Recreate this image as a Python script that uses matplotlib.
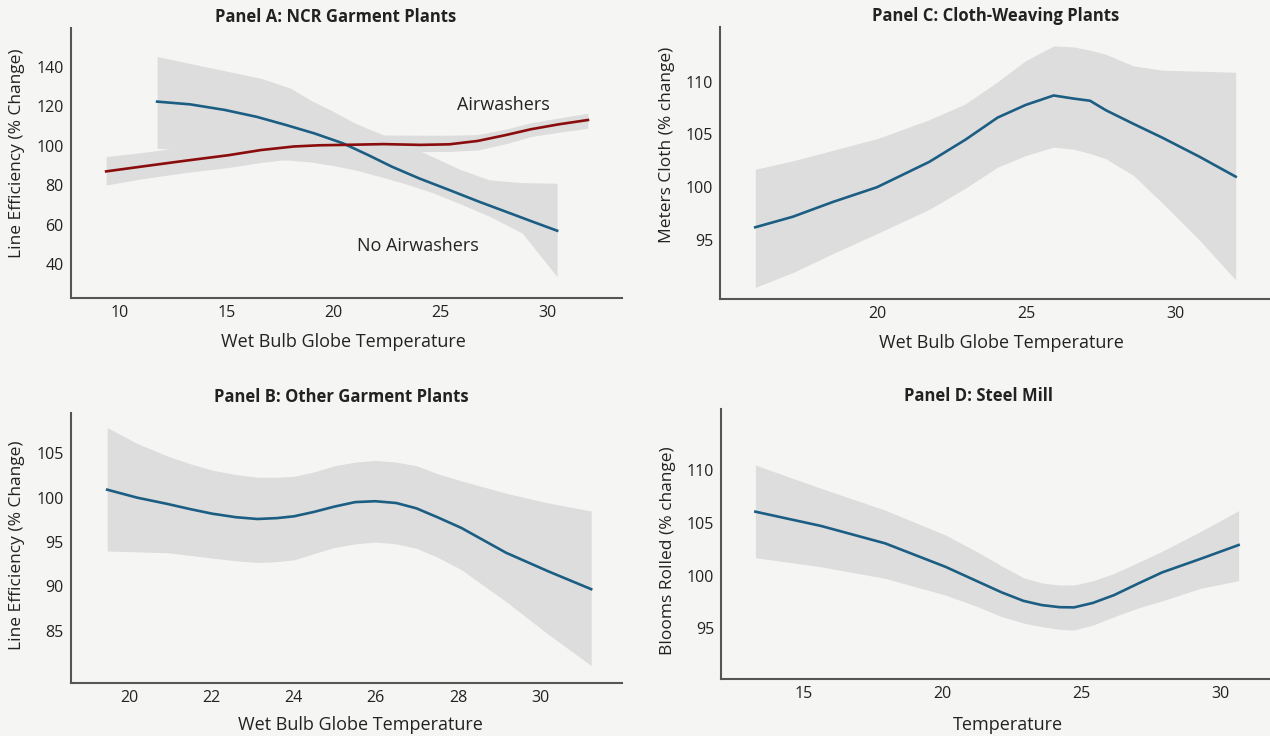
import numpy as np
import matplotlib.pyplot as plt

plt.rcParams['font.family'] = ['Open Sans', 'DejaVu Sans']

# Panel A: NCR garment plants
a_x_noair = [11.75, 13.3, 14.9, 16.4, 17.76, 19.1, 20.43, 21.6, 22.71, 24.0, 25.39, 26.8, 28.24, 29.3, 30.43]
a_y_noair = [122.3, 120.9, 118.1, 114.6, 110.5, 106.2, 101.2, 95.3, 89.4, 83.4, 77.6, 71.6, 65.8, 61.5, 57.0]
a_x_noair_hi = [11.75, 14.2, 16.6, 18.0, 18.9, 20.0, 21.0, 22.33, 23.5, 24.6, 25.9, 27.27, 28.8, 30.43]
a_hi_noair = [145.1, 139.5, 134.1, 129.0, 123.1, 117.2, 111.3, 105.4, 100.0, 94.5, 88.0, 82.7, 81.3, 81.0]
a_lo_noair = [98.7, 96.7, 93.8, 92.6, 91.8, 89.9, 87.7, 83.9, 80.2, 76.3, 70.6, 64.3, 55.8, 33.7]

a_x_air = [9.37, 11.0, 13.0, 15.09, 16.6, 18.14, 19.3, 20.43, 22.33, 24.05, 25.4, 26.72, 28.0, 29.2, 30.5, 31.87]
a_y_air = [87.0, 89.4, 92.3, 95.2, 97.8, 99.6, 100.2, 100.4, 100.8, 100.4, 100.7, 102.4, 105.3, 108.3, 110.8, 113.0]
a_hi_air = [94.5, 96.5, 99.2, 101.6, 103.6, 105.0, 105.3, 105.3, 105.4, 105.3, 105.3, 105.6, 108.3, 111.6, 114.0, 116.4]
a_lo_air = [80.1, 83.2, 86.3, 89.0, 91.5, 93.5, 94.8, 95.6, 96.6, 97.0, 97.1, 97.8, 100.9, 104.6, 106.8, 108.8]

# Panel B: other garment plants
b_x = [19.47, 20.2, 20.93, 21.5, 22.02, 22.6, 23.12, 23.6, 24.01, 24.5, 25.0, 25.5, 25.99, 26.5, 26.99, 27.5, 28.08, 29.17, 30.2, 31.24]
b_y = [100.9, 100.0, 99.3, 98.7, 98.2, 97.8, 97.6, 97.7, 97.9, 98.4, 99.0, 99.5, 99.6, 99.4, 98.8, 97.8, 96.6, 93.8, 91.7, 89.7]
b_hi = [107.9, 106.1, 104.7, 103.8, 103.1, 102.6, 102.3, 102.3, 102.4, 102.9, 103.6, 104.0, 104.2, 104.0, 103.6, 102.7, 101.9, 100.5, 99.4, 98.5]
b_lo = [94.0, 93.9, 93.8, 93.5, 93.2, 92.9, 92.7, 92.8, 93.0, 93.7, 94.4, 94.8, 95.0, 94.8, 94.3, 93.3, 91.9, 88.3, 84.6, 81.1]

# Panel C: cloth-weaving plants
c_x = [15.92, 17.18, 18.52, 20.0, 21.75, 22.96, 24.04, 24.98, 25.92, 26.6, 27.14, 27.67, 28.6, 29.56, 30.8, 32.02]
c_y = [96.2, 97.2, 98.6, 100.0, 102.4, 104.5, 106.6, 107.8, 108.7, 108.4, 108.2, 107.3, 106.0, 104.7, 102.9, 101.0]
c_hi = [101.7, 102.5, 103.5, 104.6, 106.4, 107.9, 110.0, 112.0, 113.4, 113.3, 113.0, 112.6, 111.5, 111.1, 111.0, 110.9]
c_lo = [90.5, 91.9, 93.7, 95.6, 97.9, 99.9, 101.9, 103.0, 103.8, 103.6, 103.2, 102.7, 101.1, 98.5, 95.0, 91.2]

# Panel D: steel mill
d_x = [13.25, 15.61, 17.92, 20.09, 21.2, 22.12, 22.9, 23.56, 24.2, 24.72, 25.4, 26.17, 27.0, 27.9, 29.3, 30.65]
d_y = [106.05, 104.7, 103.05, 100.83, 99.5, 98.4, 97.6, 97.2, 97.0, 96.98, 97.4, 98.15, 99.2, 100.3, 101.6, 102.89]
d_hi = [110.47, 108.26, 106.2, 103.84, 102.3, 100.9, 99.8, 99.3, 99.1, 99.1, 99.5, 100.2, 101.2, 102.3, 104.2, 106.14]
d_lo = [101.69, 100.83, 99.73, 98.15, 97.1, 96.1, 95.5, 95.15, 94.9, 94.83, 95.3, 96.1, 96.9, 97.6, 98.8, 99.51]

BG = '#f5f5f3'
BAND = '#dddddd'
BLUE = '#1c5e83'
RED = '#8a0c0c'
SPINE = '#555555'
TXT = '#222222'

fig = plt.figure(figsize=(12.7, 7.36), dpi=100, facecolor=BG)


def setup(ax, xlim, ylim, xticks, yticks, xlabel, ylabel, title, title_x, title_pad, xl_x, xl_y, yl_y):
    ax.set_facecolor(BG)
    ax.set_xlim(*xlim)
    ax.set_ylim(*ylim)
    ax.set_xticks(xticks)
    ax.set_yticks(yticks)
    for s in ['top', 'right']:
        ax.spines[s].set_visible(False)
    for s in ['left', 'bottom']:
        ax.spines[s].set_color(SPINE)
        ax.spines[s].set_linewidth(1.5)
    ax.tick_params(length=0, pad=5, labelsize=11.5, colors=TXT)
    ax.set_xlabel(xlabel, fontsize=13, color=TXT)
    ax.xaxis.set_label_coords(xl_x, xl_y)
    ax.set_ylabel(ylabel, fontsize=12.5, color=TXT)
    ax.yaxis.set_label_coords(-0.083, yl_y)
    ax.set_title(title, fontsize=12, fontweight='bold', color=TXT, x=title_x, pad=title_pad)


ax_a = fig.add_axes([0.0556, 0.5947, 0.4345, 0.3677])
ax_a.fill_between(a_x_air, a_lo_air, a_hi_air, color=BAND, lw=0)
ax_a.fill_between(a_x_noair_hi, a_lo_noair, a_hi_noair, color=BAND, lw=0)
ax_a.plot(a_x_noair, a_y_noair, color=BLUE, lw=1.9)
ax_a.plot(a_x_air, a_y_air, color=RED, lw=1.9)
ax_a.text(25.76, 120.4, 'Airwashers', fontsize=13, color=TXT, va='center')
ax_a.text(21.09, 49.4, 'No Airwashers', fontsize=13, color=TXT, va='center')
setup(ax_a, (7.71, 33.48), (22.8, 159.7), [10, 15, 20, 25, 30], [40, 60, 80, 100, 120, 140],
      'Wet Bulb Globe Temperature', 'Line Efficiency (% Change)',
      'Panel A: NCR Garment Plants', 0.48, 4, 0.494, -0.127, 0.537)

ax_c = fig.add_axes([0.5672, 0.5938, 0.4328, 0.3696])
ax_c.fill_between(c_x, c_lo, c_hi, color=BAND, lw=0)
ax_c.plot(c_x, c_y, color=BLUE, lw=1.9)
setup(ax_c, (14.75, 33.17), (89.4, 115.2), [20, 25, 30], [95, 100, 105, 110],
      'Wet Bulb Globe Temperature', 'Meters Cloth (% change)',
      'Panel C: Cloth-Weaving Plants', 0.5, 4, 0.512, -0.127, 0.567)

ax_b = fig.add_axes([0.0556, 0.0716, 0.4345, 0.3677])
ax_b.fill_between(b_x, b_lo, b_hi, color=BAND, lw=0)
ax_b.plot(b_x, b_y, color=BLUE, lw=1.9)
setup(ax_b, (18.58, 32.0), (79.1, 109.57), [20, 22, 24, 26, 28, 30], [85, 90, 95, 100, 105],
      'Wet Bulb Globe Temperature', 'Line Efficiency (% Change)',
      'Panel B: Other Garment Plants', 0.49, 7.5, 0.525, -0.122, 0.511)

ax_d = fig.add_axes([0.5679, 0.0771, 0.4321, 0.3672])
ax_d.fill_between(d_x, d_lo, d_hi, color=BAND, lw=0)
ax_d.plot(d_x, d_y, color=BLUE, lw=1.9)
setup(ax_d, (12.02, 31.78), (90.17, 115.78), [15, 20, 25, 30], [95, 100, 105, 110],
      'Temperature', 'Blooms Rolled (% change)',
      'Panel D: Steel Mill', 0.468, 6, 0.522, -0.137, 0.475)

fig.savefig('out.png', dpi=100, facecolor=BG)
